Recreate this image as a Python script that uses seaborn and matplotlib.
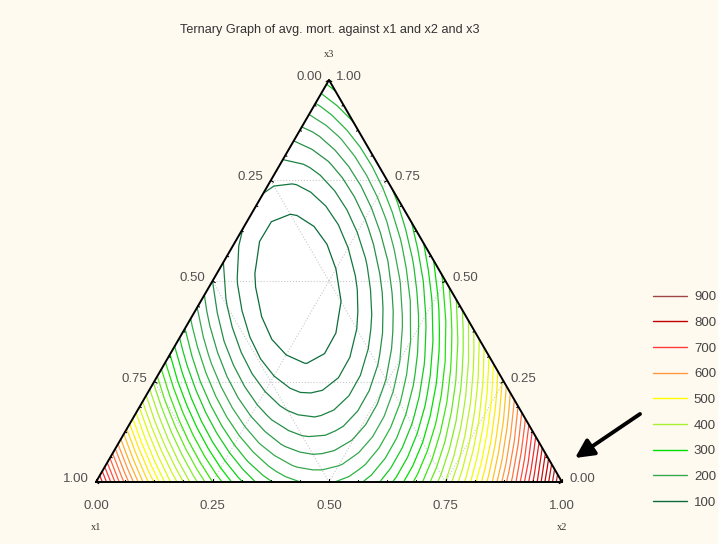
import numpy as np
import matplotlib
matplotlib.use("Agg")
import matplotlib.pyplot as plt
import matplotlib.tri as mtri
from matplotlib.colors import Normalize
from matplotlib.lines import Line2D
import seaborn as sns

# avg. mort. at the simplex design points
pure_x1 = 770
pure_x2 = 890
pure_x3 = 269
half_x1x2 = 217
half_x1x3 = 160
half_x2x3 = 329

levels = np.arange(100, 900, 20)
legend_levels = [900, 800, 700, 600, 500, 400, 300, 200, 100]
legend_colors = ['#a04545', '#c00000', '#ff3a3a', '#ff9940', '#ffff00',
                 '#a8f030', '#00e000', '#38a850', '#0b6b3a']
tick_values = [0.0, 0.25, 0.5, 0.75, 1.0]
tick_labels = ["0.00", "0.25", "0.50", "0.75", "1.00"]
title = "Ternary Graph of avg. mort. against x1 and x2 and x3"

sns.set_style("white")
plt.rcParams["font.family"] = ["Liberation Sans", "DejaVu Sans"]

H = np.sqrt(3) / 2


def to_xy(x1, x2, x3):
    return x2 + x3 / 2, x3 * H


# scheffe quadratic from the six lattice values
b12 = 4 * half_x1x2 - 2 * pure_x1 - 2 * pure_x2
b13 = 4 * half_x1x3 - 2 * pure_x1 - 2 * pure_x3
b23 = 4 * half_x2x3 - 2 * pure_x2 - 2 * pure_x3


def response(x1, x2, x3):
    return (pure_x1 * x1 + pure_x2 * x2 + pure_x3 * x3
            + b12 * x1 * x2 + b13 * x1 * x3 + b23 * x2 * x3)


n = 20
pts = [(i / n, j / n, (n - i - j) / n) for i in range(n + 1) for j in range(n + 1 - i)]
X1, X2, X3 = np.array(pts).T
U, W = to_xy(X1, X2, X3)
Z = response(X1, X2, X3)
tri = mtri.Triangulation(U, W)

fig = plt.figure(figsize=(7.18, 5.44), dpi=100)
fig.patch.set_facecolor('#fffaf0')
ax = fig.add_axes([96 / 718, 62 / 544, 466 / 718, 402 / 544])
ax.set_xlim(0, 1)
ax.set_ylim(0, H)
ax.axis('off')

corners_u, corners_w = to_xy(np.array([1, 0, 0, 1]), np.array([0, 1, 0, 0]), np.array([0, 0, 1, 0]))
ax.fill(corners_u, corners_w, color='white', zorder=0)

# dotted grid
for v in [0.25, 0.5, 0.75]:
    for a, b in [((1 - v, 0, v), (0, 1 - v, v)),
                 ((v, 1 - v, 0), (v, 0, 1 - v)),
                 ((1 - v, v, 0), (0, v, 1 - v))]:
        pa, pb = to_xy(*a), to_xy(*b)
        ax.plot([pa[0], pb[0]], [pa[1], pb[1]], ls=':', lw=0.8, color='#c8c8c8', zorder=1)

cmap = sns.blend_palette(legend_colors[::-1], as_cmap=True)
ax.tricontour(tri, Z, levels=levels, cmap=cmap, norm=Normalize(100, 900),
              linewidths=0.9, zorder=2)

ax.plot(corners_u, corners_w, color='black', lw=1.4, zorder=3, clip_on=False)

# ticks
minor = np.arange(0, 1.0001, 1 / 16)
edges = [
    (lambda v: (1 - v, v, 0), (0, 1)),
    (lambda v: (v, 0, 1 - v), (np.cos(np.radians(-30)), np.sin(np.radians(-30)))),
    (lambda v: (0, 1 - v, v), (-np.cos(np.radians(-30)), np.sin(np.radians(-30)))),
]
for f, (nx, ny) in edges:
    for v in minor:
        p = to_xy(*f(v))
        ln = 0.007 if v in tick_values else 0.004
        ax.plot([p[0], p[0] + nx * ln], [p[1], p[1] + ny * ln], color='black', lw=0.8,
                zorder=3, clip_on=False)

tcol = '#505050'
for v, lab in zip(tick_values, tick_labels):
    p = to_xy(1 - v, v, 0)
    ax.annotate(lab, p, xytext=(0, -24), textcoords='offset pixels', ha='center',
                va='center', fontsize=9.5, color=tcol)
    p = to_xy(v, 0, 1 - v)
    ax.annotate(lab, p, xytext=(-7, 3), textcoords='offset pixels', ha='right',
                va='center', fontsize=9.5, color=tcol)
    p = to_xy(0, 1 - v, v)
    ax.annotate(lab, p, xytext=(7, 3), textcoords='offset pixels', ha='left',
                va='center', fontsize=9.5, color=tcol)

lab_font = dict(family='Liberation Serif', fontsize=7.5, color='#333333', ha='center', va='center')
ax.annotate("x1", to_xy(1, 0, 0), xytext=(0, -46), textcoords='offset pixels', **lab_font)
ax.annotate("x2", to_xy(0, 1, 0), xytext=(0, -46), textcoords='offset pixels', **lab_font)
ax.annotate("x3", to_xy(0, 0, 1), xytext=(0, 25), textcoords='offset pixels', **lab_font)

fig.text(330 / 718, 1 - 30 / 544, title, ha='center', va='center', fontsize=9.1, color='#333333')

handles = [Line2D([], [], color=c, lw=1.0) for c in legend_colors]
fig.legend(handles, [str(v) for v in legend_levels], loc='upper left',
           bbox_to_anchor=(653 / 718, 1 - 291 / 544), frameon=False, fontsize=9.5,
           handlelength=2.6, handletextpad=0.5, labelspacing=1.02, borderpad=0,
           borderaxespad=0, labelcolor='#444444')

ax.annotate('', xy=(575, 544 - 458), xycoords='figure pixels',
            xytext=(640, 544 - 414), textcoords='figure pixels',
            arrowprops=dict(arrowstyle='-|>', lw=2.8, color='black', mutation_scale=28,
                            shrinkA=0, shrinkB=0))

fig.savefig("out.png", dpi=100, facecolor=fig.get_facecolor())
